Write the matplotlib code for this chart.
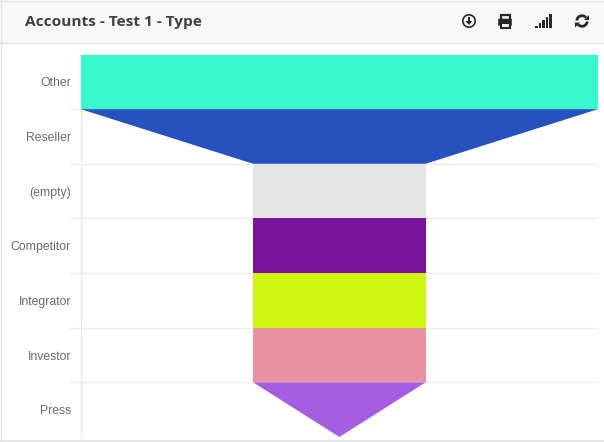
import numpy as np
import matplotlib
matplotlib.use('Agg')
import matplotlib.pyplot as plt
from matplotlib.patches import Circle, Rectangle, Polygon, Arc, FancyBboxPatch

# funnel data, one band per category
categories = ['Other', 'Reseller', '(empty)', 'Competitor', 'Integrator', 'Investor', 'Press']
top_widths = [3, 3, 1, 1, 1, 1, 1]
bottom_widths = [3, 1, 1, 1, 1, 1, 0]
colors = ['#38f9cb', '#2851c0', '#e5e5e5', '#7a1399', '#cdf50f', '#e992a1', '#a35fe0']
title = 'Accounts - Test 1 - Type'

W, H = 604, 442
fig = plt.figure(figsize=(W / 100, H / 100), dpi=100)

# page layer in pixel coordinates, header and card border
bg = fig.add_axes([0, 0, 1, 1])
bg.set_xlim(0, W)
bg.set_ylim(H, 0)
bg.axis('off')
bg.add_patch(Rectangle((0, 0), W, 43, fc='#f8f9fb', ec='none'))
bg.plot([0, W], [43, 43], color='#e2e3e6', lw=1)
bg.plot([0, W], [0.5, 0.5], color='#e2e3e6', lw=1)
bg.plot([0.5, 0.5], [0, H], color='#e2e3e6', lw=1)
bg.plot([0, W], [441, 441], color='#e2e3e6', lw=1.2)
bg.text(25, 22, title, fontsize=11.05, family='Open Sans', weight='bold', color='#3d4045', va='center')

# chart area
left, right, top, bottom = 80.7, 598, 54.5, 437
ax = fig.add_axes([left / W, 1 - bottom / H, (right - left) / W, (bottom - top) / H])
ax.patch.set_alpha(0)
ax.set_xlim(-1.5, 1.5)
ax.set_ylim(len(categories), 0)
for s in ['top', 'right', 'bottom']:
    ax.spines[s].set_visible(False)
ax.spines['left'].set_color('#e8e8e8')
ax.spines['left'].set_zorder(0)
ax.set_xticks([])
ax.set_yticks(np.arange(len(categories)) + 0.5)
ax.set_yticklabels(categories, fontsize=8.8, family='Liberation Sans', color='#6b6b6b')
ax.tick_params(axis='y', length=0, pad=7)
for i in range(1, len(categories)):
    ax.plot([-1.5, 1.5], [i, i], color='#ececec', lw=1, zorder=1)
    ax.plot([-1.564, -1.5], [i, i], color='#ececec', lw=1, zorder=1, clip_on=False)
for i in range(len(categories)):
    t, b = top_widths[i] / 2, bottom_widths[i] / 2
    ax.add_patch(Polygon([(-t, i), (t, i), (b, i + 1), (-b, i + 1)], fc=colors[i], ec='none', zorder=2))

# header icons
ic = '#26282c'
fg = fig.add_axes([0, 0, 1, 1])
fg.set_xlim(0, W)
fg.set_ylim(H, 0)
fg.axis('off')
fg.patch.set_alpha(0)

# download
fg.add_patch(Circle((469, 21), 6.2, fc='none', ec=ic, lw=1.2))
fg.add_patch(Polygon([(465.5, 21), (472.5, 21), (469, 25)], fc=ic, ec='none'))
fg.add_patch(Rectangle((468, 17), 2, 5, fc=ic, ec='none'))

# print
fg.add_patch(Rectangle((501, 15), 9, 6, fc='none', ec=ic, lw=1.6))
fg.add_patch(FancyBboxPatch((499, 19.5), 12, 5.5, boxstyle='round,pad=0.8', fc=ic, ec='none'))
fg.add_patch(Rectangle((501, 23), 9, 4.5, fc='#f8f9fb', ec=ic, lw=1.5))

# signal bars
for k, (x, h) in enumerate(zip([535, 538.5, 542, 545.5, 549], [2, 5, 8, 11, 14])):
    fg.add_patch(Rectangle((x, 28 - h), 2.5, h, fc=ic, ec='none'))

# refresh
fg.add_patch(Arc((582, 21), 10.5, 10.5, theta1=185, theta2=320, ec=ic, lw=2))
fg.add_patch(Arc((582, 21), 10.5, 10.5, theta1=5, theta2=140, ec=ic, lw=2))
fg.add_patch(Polygon([(584, 19.5), (589, 19.5), (589, 14.5)], fc=ic, ec='none'))
fg.add_patch(Polygon([(575, 22.5), (580, 22.5), (575, 27.5)], fc=ic, ec='none'))

plt.savefig('out.png', dpi=100)
